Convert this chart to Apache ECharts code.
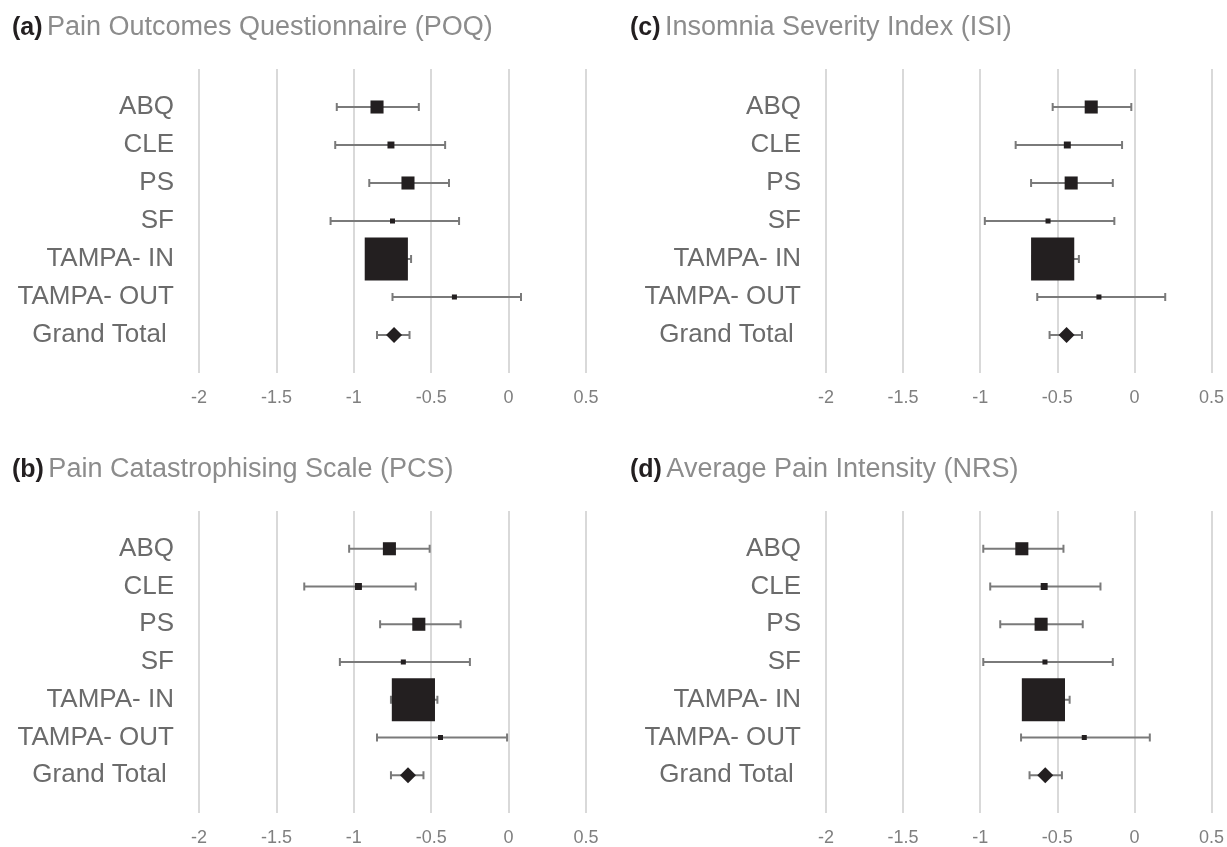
<!DOCTYPE html>
<html>
<head>
<meta charset="utf-8">
<script src="https://cdn.jsdelivr.net/npm/echarts@6/dist/echarts.min.js"></script>
<style>
  html, body { margin: 0; padding: 0; background: #fff; }
  #chart { width: 1227px; height: 847px; }
</style>
</head>
<body>
<div id="chart"></div>
<script>
// sites, top to bottom
const categories = ['ABQ', 'CLE', 'PS', 'SF', 'TAMPA- IN', 'TAMPA- OUT', 'Grand Total '];
// relative weight of each site (%), sets marker area
const siteWeight = [7.4, 2.1, 7.4, 1.1, 80.9, 1.1];

// (a) POQ
const poqEst  = [-0.85, -0.76, -0.65, -0.75, -0.79, -0.35, -0.74];
const poqLow  = [-1.11, -1.12, -0.90, -1.15, -0.92, -0.75, -0.85];
const poqHigh = [-0.58, -0.41, -0.385, -0.32, -0.63, 0.08, -0.64];

// (b) PCS
const pcsEst  = [-0.77, -0.97, -0.58, -0.68, -0.615, -0.44, -0.65];
const pcsLow  = [-1.03, -1.32, -0.83, -1.09, -0.76, -0.85, -0.76];
const pcsHigh = [-0.51, -0.60, -0.31, -0.25, -0.46, -0.01, -0.55];

// (c) ISI
const isiEst  = [-0.28, -0.435, -0.41, -0.56, -0.53, -0.23, -0.44];
const isiLow  = [-0.53, -0.77, -0.67, -0.97, -0.66, -0.63, -0.55];
const isiHigh = [-0.02, -0.08, -0.14, -0.13, -0.36, 0.20, -0.34];

// (d) NRS
const nrsEst  = [-0.73, -0.585, -0.605, -0.58, -0.59, -0.325, -0.578];
const nrsLow  = [-0.98, -0.935, -0.87, -0.98, -0.72, -0.735, -0.68];
const nrsHigh = [-0.46, -0.22, -0.335, -0.14, -0.42, 0.10, -0.47];

const panels = [
  { tag: '(a)', name: 'Pain Outcomes Questionnaire (POQ)', est: poqEst, low: poqLow, high: poqHigh, left: 199, top: 69, width: 387, tx: 12 },
  { tag: '(b)', name: 'Pain Catastrophising Scale (PCS)', est: pcsEst, low: pcsLow, high: pcsHigh, left: 199, top: 511, width: 387, tx: 12 },
  { tag: '(c)', name: 'Insomnia Severity Index (ISI)', est: isiEst, low: isiLow, high: isiHigh, left: 826, top: 69, width: 389, tx: 630 },
  { tag: '(d)', name: 'Average Pain Intensity (NRS)', est: nrsEst, low: nrsLow, high: nrsHigh, left: 826, top: 511, width: 389, tx: 630 }
];

const font = '"Liberation Sans", Arial, Helvetica, sans-serif';
let myChart = echarts.init(document.getElementById('chart'));

let title = [], grid = [], xAxis = [], yAxis = [], series = [];
panels.forEach(function (p, k) {
  title.push({
    left: p.tx, top: p.top - 56, padding: 0,
    text: '{b|' + p.tag + '}  {g|' + p.name + '}',
    textStyle: {
      fontWeight: 'normal', fontSize: 8,
      rich: {
        b: { fontFamily: font, fontSize: 25, fontWeight: 'bold', color: '#231f20', lineHeight: 30 },
        g: { fontFamily: font, fontSize: 27, fontWeight: 'normal', color: '#8c8c8c', lineHeight: 30 }
      }
    }
  });
  grid.push({ left: p.left, top: p.top, width: p.width, height: 304 });
  xAxis.push({
    type: 'value', gridIndex: k, min: -2, max: 0.5, interval: 0.5,
    axisLine: { show: false }, axisTick: { show: false },
    splitLine: { show: true, lineStyle: { color: '#d9d9d9', width: 2 } },
    axisLabel: { fontFamily: font, fontSize: 18, color: '#7f7f7f', margin: 16 }
  });
  yAxis.push({
    type: 'value', gridIndex: k, min: 0, max: 8, interval: 1, inverse: true,
    axisLine: { show: false }, axisTick: { show: false }, splitLine: { show: false },
    axisLabel: {
      fontFamily: font, fontSize: 26, color: '#6b6b6b', margin: 25,
      formatter: function (v) { return categories[v - 1] || ''; }
    }
  });

  let bars = [], pts = [];
  for (let i = 0; i < categories.length; i++) {
    bars.push([p.low[i], p.high[i], i + 1]);
    pts.push([p.est[i], i + 1, siteWeight[i] || 0]);
  }
  series.push({
    type: 'custom', xAxisIndex: k, yAxisIndex: k, z: 2,
    data: bars,
    renderItem: function (params, api) {
      let a = api.coord([api.value(0), api.value(2)]);
      let b = api.coord([api.value(1), api.value(2)]);
      let st = { stroke: '#7a7a7a', lineWidth: 2 };
      return {
        type: 'group',
        children: [
          { type: 'line', shape: { x1: a[0], y1: a[1], x2: b[0], y2: b[1] }, style: st },
          { type: 'line', shape: { x1: a[0], y1: a[1] - 4, x2: a[0], y2: a[1] + 4 }, style: st },
          { type: 'line', shape: { x1: b[0], y1: b[1] - 4, x2: b[0], y2: b[1] + 4 }, style: st }
        ]
      };
    }
  });
  series.push({
    type: 'scatter', xAxisIndex: k, yAxisIndex: k, z: 3,
    data: pts,
    symbol: function (val) { return val[2] ? 'rect' : 'diamond'; },
    symbolSize: function (val) { return val[2] ? Math.sqrt(val[2]) * 4.8 : 16; },
    itemStyle: { color: '#231f20', opacity: 1 },
    emphasis: { disabled: true }
  });
});

myChart.setOption({
  animation: false,
  title: title,
  grid: grid,
  xAxis: xAxis,
  yAxis: yAxis,
  series: series
});
</script>
</body>
</html>
